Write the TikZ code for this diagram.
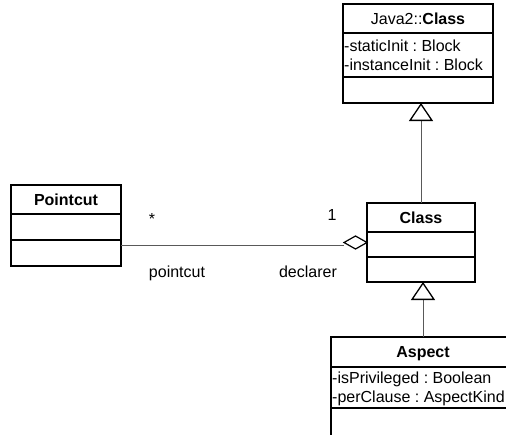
\documentclass[tikz,border=0pt]{standalone}
\usepackage{fontspec}
\setmainfont{Liberation Sans}
\usetikzlibrary{arrows.meta,shapes.geometric}
\frenchspacing
\tikzset{
  umlfont/.style={font=\fontsize{16}{19}\selectfont\frenchspacing},
  comp/.style={draw=black, line width=1.3pt, inner sep=0pt, outer sep=0pt, umlfont},
  headbox/.style={comp, text height=11.5pt, text depth=0pt},
  attrtext/.style={umlfont, inner sep=0pt, anchor=west, text height=11.5pt, text depth=0pt},
  conn/.style={draw=black!65, line width=1pt},
  gen/.style={conn, -{Triangle[open, length=18pt, width=24pt, color=black, line width=1.3pt]}},
  agg/.style={diamond, draw=black, line width=1.2pt, minimum width=23pt, minimum height=13pt, inner sep=0pt, outer sep=0pt, fill=white},
  rolelabel/.style={umlfont, inner sep=0pt, anchor=base}
}
\begin{document}
\begin{tikzpicture}[x=1pt,y=-1pt]
\useasboundingbox (0,0) rectangle (506,434);
\clip (0,0) rectangle (506,434);
\fill[white] (0,0) rectangle (506,434);

% Java2::Class
\node[headbox, minimum width=150pt, minimum height=29pt] (j2h) at (418,18.5) {Java2::\textbf{Class}};
\node[comp, minimum width=150pt, minimum height=44pt] (j2a) at (418,55) {};
\node[comp, minimum width=150pt, minimum height=26pt] (j2o) at (418,90) {};
\node[attrtext] (j2a1) at ([xshift=1pt, yshift=9.5pt]j2a.west) {-staticInit : Block};
\node[attrtext] (j2a2) at ([xshift=1pt, yshift=-9.5pt]j2a.west) {-instanceInit : Block};

% Class
\node[headbox, minimum width=108pt, minimum height=29pt] (clh) at (421,217.5) {\textbf{Class}};
\node[comp, minimum width=108pt, minimum height=25pt] (cla) at (421,244.5) {};
\node[comp, minimum width=108pt, minimum height=25pt] (clo) at (421,269.5) {};

% Pointcut
\node[headbox, minimum width=110pt, minimum height=29pt] (pch) at (66,199.5) {\textbf{Pointcut}};
\node[comp, minimum width=110pt, minimum height=26pt] (pca) at (66,227) {};
\node[comp, minimum width=110pt, minimum height=26pt] (pco) at (66,253) {};

% Aspect
\node[headbox, minimum width=184pt, minimum height=30pt] (ash) at (423,352) {\textbf{Aspect}};
\node[comp, minimum width=184pt, minimum height=41pt] (asa) at (423,387.5) {};
\node[comp, minimum width=184pt, minimum height=34pt] (aso) at (423,425) {};
\node[attrtext] (asa1) at ([xshift=1pt, yshift=9.5pt]asa.west) {-isPrivileged : Boolean};
\node[attrtext] (asa2) at ([xshift=1pt, yshift=-9.5pt]asa.west) {-perClause : AspectKind};

% generalizations
\draw[gen] (clh.north) -- (clh.north |- j2o.south);
\draw[gen] (ash.north) -- (ash.north |- clo.south);

% aggregation
\node[agg] (dia) at (355.5,242.5) {};
\coordinate (pcend) at (pco.north east |- 0,245.5);
\draw[conn] (pcend) -- (dia.west |- pcend);

% labels
\node[rolelabel] (mstar) at (152,224) {*};
\node[rolelabel] (mone) at (332,220) {1};
\node[rolelabel] (rpc) at (177,277) {pointcut};
\node[rolelabel] (rdecl) at (308,277) {declarer};
\end{tikzpicture}
\end{document}
